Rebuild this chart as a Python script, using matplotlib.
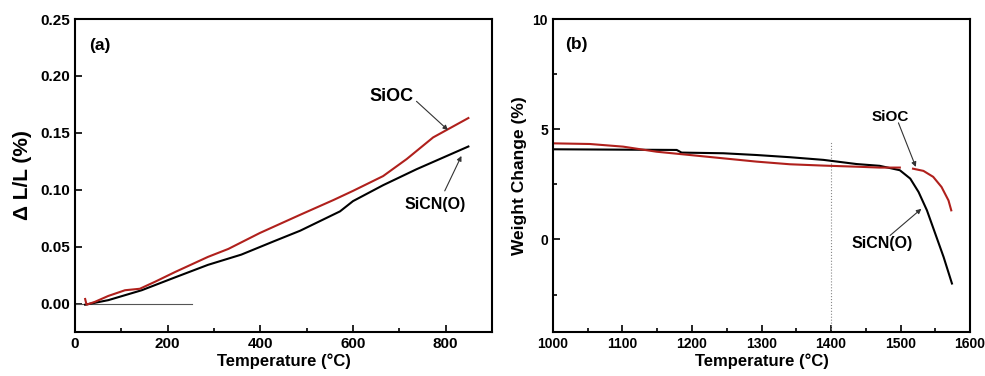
import numpy as np
import matplotlib.pyplot as plt
from matplotlib.ticker import MultipleLocator

plt.rcParams['font.family'] = ['Liberation Sans', 'DejaVu Sans']
plt.rcParams['font.weight'] = 'bold'

# -----------------------------
# Data: (a) dilatometry
# -----------------------------
t_sioc_a = [22, 25, 43, 72, 108, 140, 172, 216, 287, 331, 399, 486, 558, 600,
            665, 716, 773, 849]
dl_sioc = [0.004, -0.001, 0.0015, 0.0067, 0.0117, 0.013, 0.019, 0.0277, 0.041,
           0.048, 0.062, 0.078, 0.091, 0.099, 0.112, 0.127, 0.146, 0.163]

t_sicn_a = [22, 72, 144, 216, 287, 359, 377, 431, 486, 572, 600, 665, 737, 849]
dl_sicn = [-0.001, 0.003, 0.0117, 0.023, 0.034, 0.043, 0.046, 0.055, 0.064,
           0.081, 0.090, 0.104, 0.118, 0.138]

# -----------------------------
# Data: (b) TGA weight change
# -----------------------------
t_sioc_b = [1000, 1053, 1101, 1149, 1197, 1245, 1293, 1341, 1389, 1437, 1470,
            1499, 1508, 1518, 1533, 1547, 1559, 1569, 1573]
w_sioc = [4.36, 4.33, 4.21, 3.98, 3.83, 3.68, 3.53, 3.41, 3.35, 3.30, 3.26,
          3.26, np.nan, 3.21, 3.11, 2.84, 2.38, 1.77, 1.32]

t_sicn_b = [1000, 1178, 1185, 1245, 1293, 1341, 1389, 1437, 1470, 1499, 1514,
            1526, 1538, 1550, 1562, 1574]
w_sicn = [4.09, 4.06, 3.94, 3.91, 3.83, 3.73, 3.61, 3.42, 3.34, 3.14, 2.76,
          2.15, 1.32, 0.26, -0.80, -2.0]

red = '#b0201c'
arrow = dict(arrowstyle='-|>', color='#333333', lw=0.8, mutation_scale=7,
             shrinkA=0, shrinkB=0)

fig = plt.figure(figsize=(9.85, 3.76), dpi=100)
ax1 = fig.add_axes([0.0761, 0.117, 0.4234, 0.8324])
ax2 = fig.add_axes([0.5614, 0.117, 0.4234, 0.8324])

# -----------------------------
# Panel (a)
# -----------------------------
ax1.plot([0, 252], [0, 0], color='#555555', lw=0.8)
ax1.plot(t_sicn_a, dl_sicn, color='black', lw=1.5)
ax1.plot(t_sioc_a, dl_sioc, color=red, lw=1.5)
ax1.set_xlim(0, 900)
ax1.set_ylim(-0.025, 0.25)
ax1.xaxis.set_major_locator(MultipleLocator(200))
ax1.xaxis.set_minor_locator(MultipleLocator(100))
ax1.yaxis.set_major_locator(MultipleLocator(0.05))
ax1.yaxis.set_major_formatter(plt.FormatStrFormatter('%.2f'))
ax1.set_xlabel('Temperature (°C)', fontsize=12, fontweight='bold', labelpad=2)
ax1.set_ylabel('Δ L/L (%)', fontsize=15, fontweight='bold', labelpad=6)
ax1.text(54, 0.227, '(a)', fontsize=12.5, fontweight='bold', ha='center', va='center')
ax1.text(683, 0.182, 'SiOC', fontsize=13, fontweight='bold', ha='center', va='center')
ax1.annotate('', xy=(805, 0.1524), xytext=(737, 0.1777), arrowprops=arrow)
ax1.text(777, 0.087, 'SiCN(O)', fontsize=11.5, fontweight='bold', ha='center', va='center')
ax1.annotate('', xy=(834, 0.1297), xytext=(798, 0.099), arrowprops=arrow)

# -----------------------------
# Panel (b)
# -----------------------------
ax2.axvline(1400, ymax=(4.4 + 4.2) / 14.2, color='#888888', lw=0.8, linestyle=':')
ax2.plot(t_sicn_b, w_sicn, color='black', lw=1.5)
ax2.plot(t_sioc_b, w_sioc, color=red, lw=1.5)
ax2.set_xlim(1000, 1600)
ax2.set_ylim(-4.2, 10)
ax2.xaxis.set_major_locator(MultipleLocator(100))
ax2.xaxis.set_minor_locator(MultipleLocator(50))
ax2.yaxis.set_major_locator(MultipleLocator(5))
ax2.yaxis.set_minor_locator(MultipleLocator(2.5))
ax2.set_xlabel('Temperature (°C)', fontsize=12, fontweight='bold', labelpad=2)
ax2.set_ylabel('Weight Change (%)', fontsize=12.5, fontweight='bold')
ax2.text(1033, 8.83, '(b)', fontsize=12.5, fontweight='bold', ha='center', va='center')
ax2.text(1485, 5.55, 'SiOC', fontsize=11, fontweight='bold', ha='center', va='center')
ax2.annotate('', xy=(1522, 3.29), xytext=(1497, 5.29), arrowprops=arrow)
ax2.text(1474, -0.18, 'SiCN(O)', fontsize=11.5, fontweight='bold', ha='center', va='center')
ax2.annotate('', xy=(1530, 1.39), xytext=(1485, 0.18), arrowprops=arrow)

for ax, ls in ((ax1, 11), (ax2, 10)):
    for s in ax.spines.values():
        s.set_linewidth(1.5)
    ax.tick_params(which='both', direction='in', width=1.2, labelsize=ls)
    ax.tick_params(which='major', length=5)
    ax.tick_params(which='minor', length=3)
    for lab in ax.get_xticklabels() + ax.get_yticklabels():
        lab.set_fontweight('bold')

fig.savefig('out.png', dpi=100)
